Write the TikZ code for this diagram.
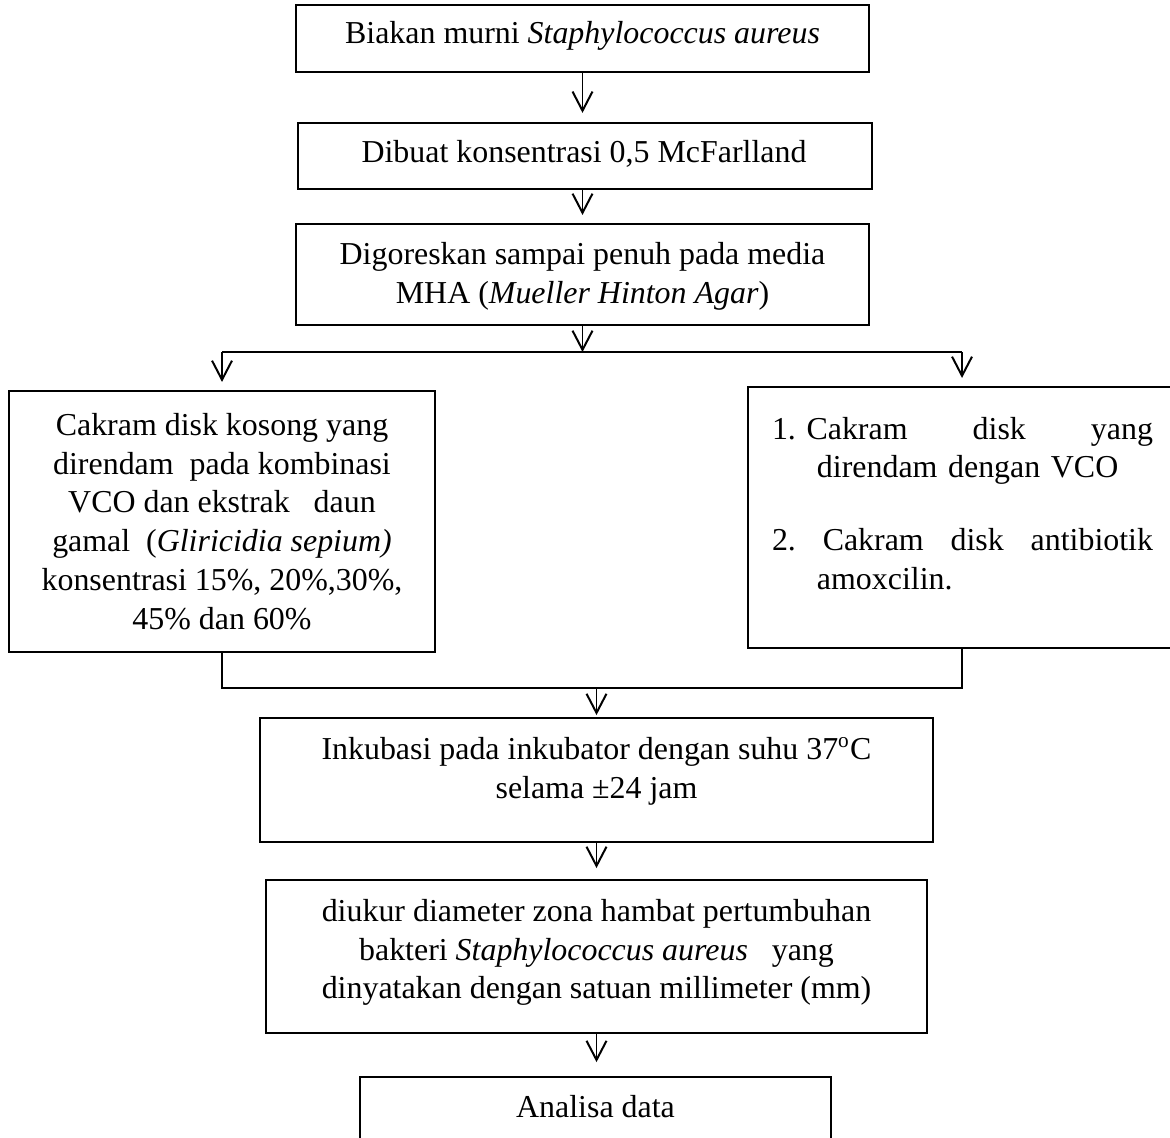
\documentclass[tikz,border=0pt]{standalone}
\usepackage{fontspec}
\setmainfont{Liberation Serif}
\usetikzlibrary{arrows.meta}
\def\pxu{0.376pt}
\newcommand{\FlowFont}{\fontsize{12}{14.6}\selectfont}
\tikzset{
  flow box/.style={draw=black,line width=0.62pt,inner sep=0pt,outer sep=0pt},
  flow text/.style={align=center,inner sep=0pt,outer sep=0pt,font=\FlowFont},
  flow line/.style={draw=black,line width=0.62pt},
  flow arrow/.style={flow line,-{Straight Barb[length=7.2pt,width=7.5pt,line width=0.75pt]}}
}

\begin{document}
\begin{tikzpicture}[x=0.376pt,y=-0.376pt]
  % one unit = one pixel of the 1170 x 1137 page, y runs downwards
  \path[use as bounding box] (0,0) rectangle (1170,1137);

  \newcommand{\flowbox}[5]{%
    \node[flow box,minimum width={(#4-#2)*\pxu},minimum height={(#5-#3)*\pxu}]
      (#1) at ({(#2+#4)/2},{(#3+#5)/2}) {};%
  }

  \flowbox{culture}{296}{5}{869}{72}
  \flowbox{mcf}{298}{123}{872}{189}
  \flowbox{streak}{296}{224}{869}{325}
  \flowbox{mix}{9}{391}{435}{652}
  \flowbox{ctrl}{748}{387}{1176}{648}
  \flowbox{incub}{260}{718}{933}{842}
  \flowbox{measure}{266}{880}{927}{1033}
  \flowbox{analysis}{360}{1077}{831}{1160}

  \node[flow text] (cultureText) at (582.5,36) {Biakan murni \textit{Staphylococcus aureus}};
  \node[flow text] (mcfText) at (584,154) {Dibuat konsentrasi 0,5 McFarlland};
  \node[flow text] (streakText) at (582.5,276)
    {Digoreskan sampai penuh pada media\\MHA (\textit{Mueller Hinton Agar})};
  \node[flow text] (mixText) at (222,521.5)
    {Cakram disk kosong yang\\direndam\ \ pada kombinasi\\VCO dan ekstrak\ \ \ daun\\
     gamal\ \ (\textit{Gliricidia sepium)}\\konsentrasi 15\%, 20\%,30\%,\\45\% dan 60\%};
  \node[flow text,align=left,text width={381*\pxu}] (ctrlText) at (962.5,503.5)
    {\makebox[\linewidth][l]{1.~Cakram\hfill disk\hfill yang}\\
     \hspace*{16.9pt}direndam dengan VCO\\[12.8pt]
     \makebox[\linewidth][l]{2.\hfill Cakram\hfill disk\hfill antibiotik}\\
     \hspace*{16.9pt}amoxcilin.};
  \node[flow text] (incubText) at (596.5,771)
    {Inkubasi pada inkubator dengan suhu 37\textsuperscript{o}C\\selama ±24 jam};
  \node[flow text] (measureText) at (596.5,952.5)
    {diukur diameter zona hambat pertumbuhan\\bakteri \textit{Staphylococcus aureus}\ \ \ yang\\
     dinyatakan dengan satuan millimeter (mm)};
  \node[flow text] (analysisText) at (595.5,1107) {Analisa data};

  \coordinate (split) at (582.5,352);
  \coordinate (splitL) at (222,352);
  \coordinate (splitR) at (962,352);
  \coordinate (joinL) at (222,688);
  \coordinate (joinR) at (962,688);

  \draw[flow arrow,shorten >=3.8pt] (culture.south) -- (culture.south |- mcf.north);
  \draw[flow arrow,shorten >=3.4pt] (streak.north |- mcf.south) -- (streak.north);
  \draw[flow arrow] (streak.south) -- (split);
  \draw[flow line] (splitL) -- (splitR);
  \draw[flow arrow,shorten >=3.4pt] (splitL) -- (mix.north);
  \draw[flow arrow,shorten >=3.4pt] (splitR) -- (ctrl.north);
  \draw[flow line] (mix.south) -- (joinL) -- (joinR) -- (ctrl.south);
  \draw[flow arrow,shorten >=1.1pt] (incub.north |- joinL) -- (incub.north);
  \draw[flow arrow,shorten >=4.5pt] (incub.south) -- (measure.north);
  \draw[flow arrow,shorten >=5.6pt] (measure.south) -- (measure.south |- analysis.north);
\end{tikzpicture}
\end{document}
